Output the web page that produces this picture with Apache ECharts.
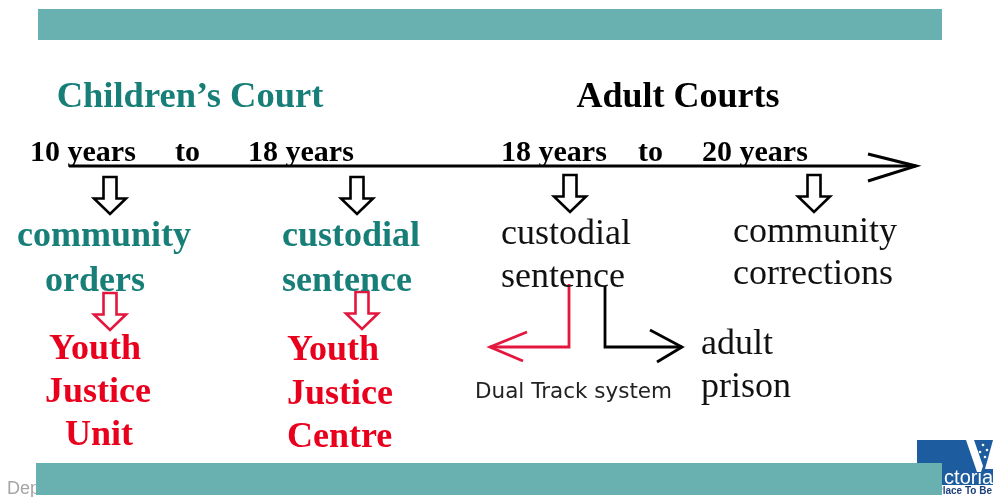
<!DOCTYPE html>
<html><head><meta charset="utf-8">
<script src="https://cdn.jsdelivr.net/npm/echarts@6/dist/echarts.min.js"></script>
<style>html,body{margin:0;padding:0;background:#fff}#c{width:997px;height:497px}</style>
</head><body><div id="c"></div>
<script>
// ---------- content ----------
const courtHeaders = ["Children’s Court", "Adult Courts"];
const ageTickLabels = ["10 years", "to", "18 years", "18 years", "to", "20 years"];
const childOutcomes = [["community", "orders"], ["custodial", "sentence"]];
const adultOutcomes = [["custodial", "sentence"], ["community", "corrections"]];
const youthFacilities = [["Youth", "Justice", "Unit"], ["Youth", "Justice", "Centre"]];
const dualTrackLabel = "Dual Track system";
const prisonLabel = ["adult", "prison"];
const footerLabel = "Dep";
const logoLabels = ["ctoria", "The Place To Be"];

// ---------- layout / style ----------
const SERIF = '"Liberation Serif","Times New Roman",serif';
const SANS = '"DejaVu Sans",Verdana,sans-serif';
const NARROW = '"Liberation Sans Narrow","Liberation Sans",Arial,sans-serif';
const TEAL = '#177e78', RED = '#e8001c', BAR = '#68b1b0', BLUE = '#1d5c9f', LINK_RED = '#e3173e';

const texts = [];
function put(t, x, y, size, weight, color, align, family) {
  texts.push({ t, x, y, font: (weight ? weight + ' ' : '') + size + 'px ' + (family || SERIF), color, align });
}
put(courtHeaders[0], 190, 98, 36.5, 'bold', TEAL, 'center');
put(courtHeaders[1], 678, 98, 36, 'bold', '#000', 'center');
[30, 175, 248, 501, 638, 702].forEach((x, i) => put(ageTickLabels[i], x, 153, 30, 'bold', '#000', 'left'));
// children's court outcomes
put(childOutcomes[0][0], 104, 237, 36, 'bold', TEAL, 'center');
put(childOutcomes[0][1], 95, 282, 36, 'bold', TEAL, 'center');
childOutcomes[1].forEach((t, i) => put(t, 282, 237 + i * 45, 36, 'bold', TEAL, 'left'));
// adult outcomes
adultOutcomes[0].forEach((t, i) => put(t, 501, 235 + i * 43, 36, '', '#111', 'left'));
adultOutcomes[1].forEach((t, i) => put(t, 733, 233 + i * 42, 36, '', '#111', 'left'));
// facilities
[95, 98, 99].forEach((x, i) => put(youthFacilities[0][i], x, 350 + [0, 43, 86][i], 36, 'bold', RED, 'center'));
youthFacilities[1].forEach((t, i) => put(t, 287, 351 + [0, 44, 87][i], 36, 'bold', RED, 'left'));
prisonLabel.forEach((t, i) => put(t, 701, 345 + i * 43, 36, '', '#111', 'left'));
put(dualTrackLabel, 475, 392, 21.5, '', '#222', 'left', SANS);

// polylines: [points, color, width]
const paths = [
  [[[69, 166], [916, 166]], '#000', 3],
  [[[868, 154], [916, 166], [868, 181]], '#000', 3],
  [[[569, 284], [569, 347], [490, 347]], LINK_RED, 2.8],
  [[[527, 332], [490, 347], [523, 361]], LINK_RED, 2.8],
  [[[605, 286], [605, 347], [682, 347]], '#000', 2.8],
  [[[650, 330], [682, 347], [657, 362]], '#000', 2.8]
];
// hollow down arrows: [cx, top, tip, color]
const downArrows = [
  [110, 177, 214, '#000'], [357, 177, 214, '#000'], [570, 175, 212, '#000'], [814, 175, 212, '#000'],
  [110, 293, 330, LINK_RED], [362, 292, 329, LINK_RED]
];
// panels: [x1, y1, x2, y2, color]
const panels = [[38, 9, 942, 40, BAR], [36, 463, 942, 495, BAR]];

const chart = echarts.init(document.getElementById('c'));
const hiddenAxis = { show: false, axisLine: { show: false }, splitLine: { show: false } };
const txt = (pt, text, fill, font, align) => ({ type: 'text', x: pt[0], y: pt[1], style: { text, fill, font, align, verticalAlign: 'middle', textAlign: align, textVerticalAlign: 'middle' } });

chart.setOption({
  animation: false,
  backgroundColor: '#fff',
  grid: { left: 0, right: 0, top: 0, bottom: 0 },
  xAxis: Object.assign({ type: 'value', min: 0, max: 997 }, hiddenAxis),
  yAxis: Object.assign({ type: 'value', min: 0, max: 497, inverse: true }, hiddenAxis),
  series: [
    { // logo + footer text (below bottom bar)
      type: 'custom', coordinateSystem: 'cartesian2d', silent: true, z: 1,
      data: [[917, 440]],
      renderItem: (p, api) => {
        const c = a => api.coord(a);
        const tl = c([917, 440]), br = c([993, 485]);
        const dot = (x, y) => { const q = c([x, y]); return { type: 'circle', shape: { cx: q[0], cy: q[1], r: 1.3 }, style: { fill: '#fff' } }; };
        return { type: 'group', children: [
          txt(c([7, 489]), footerLabel, '#a5a5a5', '18px "Liberation Sans",Arial,sans-serif', 'left'),
          { type: 'rect', shape: { x: tl[0], y: tl[1], width: br[0] - tl[0], height: br[1] - tl[1] }, style: { fill: BLUE } },
          { type: 'polygon', shape: { points: [c([966, 440]), c([974, 440]), c([983, 466]), c([981, 472]), c([977, 472])] }, style: { fill: '#fff' } },
          { type: 'polygon', shape: { points: [c([993, 440]), c([997, 440]), c([997, 469]), c([985, 469])] }, style: { fill: '#fff' } },
          dot(983, 445), dot(987, 450), dot(980, 452), dot(985, 457),
          txt(c([993, 478]), logoLabels[0], '#fff', '20px ' + NARROW, 'right'),
          txt(c([992, 491]), logoLabels[1], '#1d3f7a', 'bold 10px ' + NARROW, 'right')
        ] };
      }
    },
    { // teal panels
      type: 'custom', coordinateSystem: 'cartesian2d', silent: true, z: 2,
      data: panels.map((r, i) => [r[0], r[1], i]),
      renderItem: (p, api) => {
        const r = panels[p.dataIndex];
        const a = api.coord([r[0], r[1]]), b = api.coord([r[2], r[3]]);
        return { type: 'rect', shape: { x: a[0], y: a[1], width: b[0] - a[0], height: b[1] - a[1] }, style: { fill: r[4] } };
      }
    },
    { // lines
      type: 'custom', coordinateSystem: 'cartesian2d', silent: true, z: 3,
      data: paths.map((r, i) => [r[0][0][0], r[0][0][1], i]),
      renderItem: (p, api) => {
        const r = paths[p.dataIndex];
        return { type: 'polyline', shape: { points: r[0].map(pt => api.coord(pt)) }, style: { stroke: r[1], lineWidth: r[2], fill: null, lineJoin: 'miter', lineCap: 'butt' } };
      }
    },
    { // hollow down arrows
      type: 'custom', coordinateSystem: 'cartesian2d', silent: true, z: 3,
      data: downArrows.map((r, i) => [r[0], r[1], i]),
      renderItem: (p, api) => {
        const r = downArrows[p.dataIndex];
        const top = api.coord([r[0], r[1]]), tip = api.coord([r[0], r[2]]);
        const h = tip[1] - top[1], cx = top[0], sw = 6.5, hw = 16, hy = top[1] + h * 0.58;
        return { type: 'polygon', shape: { points: [[cx - sw, top[1]], [cx + sw, top[1]], [cx + sw, hy], [cx + hw, hy], [cx, tip[1]], [cx - hw, hy], [cx - sw, hy]] },
          style: { stroke: r[3], lineWidth: 2.6, fill: '#fff', lineJoin: 'miter' } };
      }
    },
    { // texts
      type: 'custom', coordinateSystem: 'cartesian2d', silent: true, z: 4,
      data: texts.map((t, i) => [t.x, t.y, i]),
      renderItem: (p, api) => {
        const t = texts[p.dataIndex];
        return txt(api.coord([t.x, t.y]), t.t, t.color, t.font, t.align);
      }
    }
  ]
});
</script>
</body></html>
